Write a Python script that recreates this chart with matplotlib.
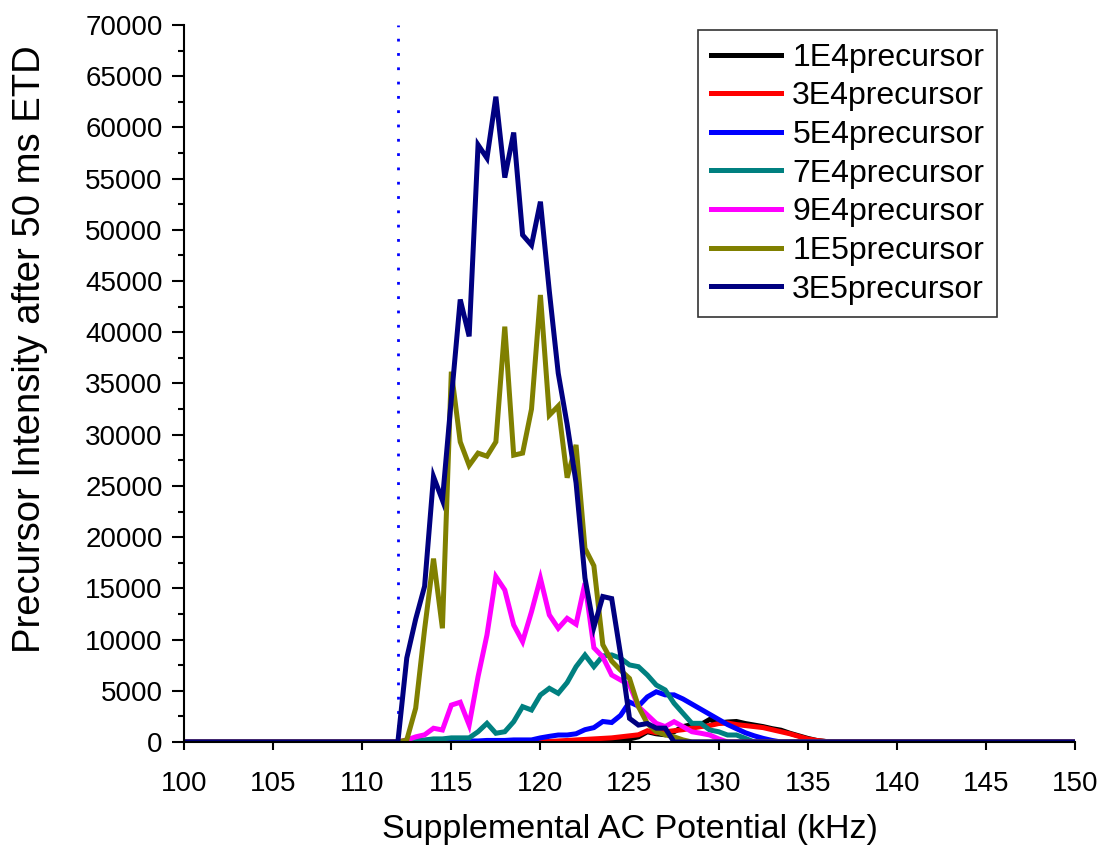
import numpy as np
import matplotlib
matplotlib.use("Agg")
import matplotlib.pyplot as plt
from matplotlib.ticker import MultipleLocator

plt.rcParams["font.family"] = ["Liberation Sans", "DejaVu Sans"]

# supplemental AC frequency grid (kHz), 0.5 kHz steps
freq = np.arange(100, 150.5, 0.5)
# measured region 112 - 136 kHz; outside it the intensity is zero
freq_start, freq_stop = 112.0, 136.0

p1e4 = [0, 0, 0, 0, 0, 0, 0, 0, 0, 0, 0, 0, 0, 0, 0, 0, 0, 0, 0, 0, 0, 0, 0,
        50, 100, 200, 300, 500, 1000, 800, 700, 1000, 1500, 1700, 1700, 2200,
        1850, 1950, 2000, 1800, 1650, 1500, 1300, 1150, 850, 600, 350, 150, 50]
p3e4 = [0, 0, 0, 0, 0, 0, 0, 0, 0, 0, 0, 0, 0, 0, 0, 0, 0,
        50, 100, 150, 200, 250, 300, 350, 400, 500, 600, 700, 1100, 900, 1000,
        1100, 1200, 1350, 1500, 1600, 1800, 1850, 1700, 1600, 1500, 1400, 1200,
        1000, 800, 550, 300, 150, 50]
p5e4 = [0, 0, 100, 100, 100, 100, 100, 100, 100, 100, 150, 150, 150, 200, 200,
        200, 400, 550, 680, 680, 800, 1200, 1400, 2000, 1900, 2600, 3900, 3500,
        4400, 4900, 4600, 4600, 4200, 3700, 3200, 2700, 2200, 1700, 1300, 900,
        600, 350, 150, 0, 0, 0, 0, 0, 0]
p7e4 = [0, 0, 200, 200, 300, 300, 400, 400, 400, 1000, 1820, 850, 1000, 1980,
        3450, 3120, 4590, 5240, 4750, 5800, 7350, 8490, 7350, 8400, 8500, 8170,
        7520, 7350, 6540, 5560, 5080, 3780, 2800, 1820, 1820, 1170, 1000, 680,
        680, 350, 0, 0, 0, 0, 0, 0, 0, 0, 0]
p9e4 = [0, 200, 500, 700, 1340, 1170, 3600, 3880, 1660, 6380, 10450, 16140,
        14840, 11420, 9800, 12720, 15980, 12400, 11100, 12070, 11500, 15500,
        9200, 8300, 6540, 6050, 5560, 3450, 2640, 1820, 1500, 1980, 1500, 1000,
        850, 680, 300, 0, 0, 0, 0, 0, 0, 0, 0, 0, 0, 0, 0]
p1e5 = [0, 200, 3300, 11000, 17900, 11100, 36150, 29300, 27000, 28200, 27900,
        29300, 40550, 28000, 28200, 32500, 43640, 31900, 32800, 25800, 29000,
        18900, 17200, 9500, 7900, 7000, 6200, 3450, 1800, 1000, 700, 500, 200,
        0, 0, 0, 0, 0, 0, 0, 0, 0, 0, 0, 0, 0, 0, 0, 0]
p3e5 = [0, 8200, 12000, 15200, 25900, 23600, 33500, 43200, 39600, 58300, 57000,
        63000, 55100, 59500, 49500, 48500, 52750, 44000, 36000, 31000, 25300,
        16000, 11200, 14200, 14000, 8500, 2300, 1650, 1800, 1350, 1350, 0,
        0, 0, 0, 0, 0, 0, 0, 0, 0, 0, 0, 0, 0, 0, 0, 0, 0]

labels = ["1E4precursor", "3E4precursor", "5E4precursor", "7E4precursor",
          "9E4precursor", "1E5precursor", "3E5precursor"]
colors = ["#000000", "#FF0000", "#0000FF", "#008080",
          "#FF00FF", "#808000", "#000080"]
series = [p1e4, p3e4, p5e4, p7e4, p9e4, p1e5, p3e5]

etd_cutoff = 112.0


def full_trace(vals):
    y = np.zeros_like(freq)
    inside = (freq >= freq_start) & (freq <= freq_stop)
    y[inside] = vals
    return y


fig = plt.figure(figsize=(11.02, 8.47), dpi=100)
ax = fig.add_axes([0.167, 0.124, 0.8085, 0.8465])

ax.plot([etd_cutoff, etd_cutoff], [0, 70000], color="#0000FF", lw=2.0,
        ls=(0, (1, 4.15)), zorder=1)

for vals, c, l in zip(series, colors, labels):
    ax.plot(freq, full_trace(vals), color=c, lw=3.6, label=l,
            solid_joinstyle="miter", zorder=2)

ax.set_xlim(100, 150)
ax.set_ylim(0, 70000)
ax.xaxis.set_major_locator(MultipleLocator(5))
ax.yaxis.set_major_locator(MultipleLocator(5000))
ax.yaxis.set_minor_locator(MultipleLocator(2500))

for s in ["top", "right"]:
    ax.spines[s].set_visible(False)
for s in ["left", "bottom"]:
    ax.spines[s].set_linewidth(1.5)

ax.tick_params(axis="x", which="major", direction="out", length=6, width=1.5,
               labelsize=20, pad=15)
ax.tick_params(axis="y", which="major", direction="out", length=8.5, width=1.5,
               labelsize=20, pad=7)
ax.tick_params(axis="y", which="minor", direction="out", length=4.3, width=1.5)

ax.set_xlabel("Supplemental AC Potential (kHz)", fontsize=24.5, labelpad=12)
ax.set_ylabel("Precursor Intensity after 50 ms ETD", fontsize=27.5)
ax.yaxis.set_label_coords(-0.153, 0.548)

leg = ax.legend(loc="upper right", bbox_to_anchor=(0.9125, 0.993), fontsize=23,
                frameon=True, fancybox=False, edgecolor="black",
                handlelength=2.2, handletextpad=0.35, labelspacing=0.27,
                borderpad=0.4, borderaxespad=0)
leg.get_frame().set_linewidth(1.2)

fig.savefig("out.png", dpi=100)
